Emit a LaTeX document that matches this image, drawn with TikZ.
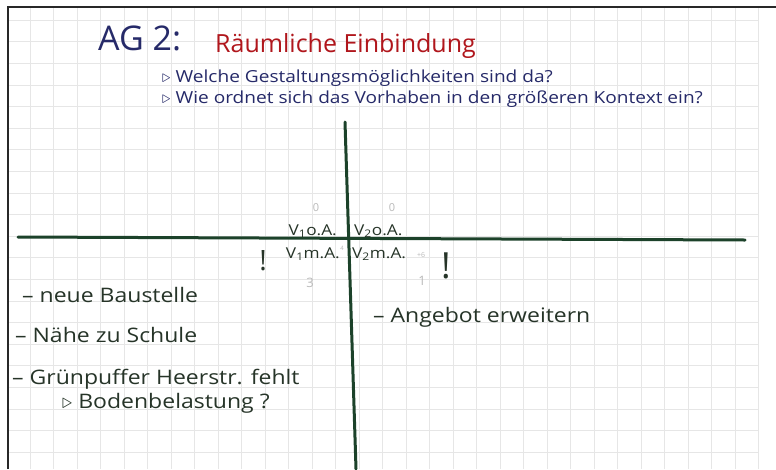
\documentclass[tikz,border=0pt]{standalone}
\usepackage{fontspec}
\setmainfont{Open Sans}
\newfontfamily\handfont{Open Sans}[FakeStretch=1.15]
\usepackage{xcolor}
\definecolor{fnavy}{RGB}{38,42,105}
\definecolor{fred}{RGB}{176,22,28}
\definecolor{fgreen}{RGB}{28,66,42}
\definecolor{fink}{RGB}{38,52,40}
\definecolor{fpencil}{RGB}{185,185,185}
\definecolor{fgrid}{RGB}{230,230,230}
\definecolor{fframe}{RGB}{40,40,40}

\begin{document}
\begin{tikzpicture}[
  x=1pt,y=-1pt,
  gridline/.style={fgrid,line width=0.6pt},
  axis/.style={fgreen,line width=3pt,line cap=round},
  hand/.style={inner sep=0pt,anchor=base west,text=fink,font=\handfont\fontsize{20}{24}\selectfont},
  ask/.style={inner sep=0pt,anchor=base west,text=fnavy,font=\handfont\fontsize{16.6}{20}\selectfont},
  quad/.style={inner sep=0pt,text=fink,font=\handfont\fontsize{15}{18}\selectfont},
  pencil/.style={inner sep=0pt,text=fpencil,font=\fontsize{11}{13}\selectfont},
  bang/.style={inner sep=0pt,text=fink}
]
\useasboundingbox (0,0) rectangle (776,469);
\fill[white] (0,0) rectangle (776,469);
\foreach \gx in {0,...,31} \draw[gridline] (30+23.5*\gx,8) -- (30+23.5*\gx,469);
\foreach \gy in {0,...,20} \draw[gridline] (8,20+21.6*\gy) -- (758,20+21.6*\gy);
\draw[fframe,line width=2pt] (8,469) -- (8,7) -- (776,7);

\coordinate (hl) at (18,237);
\coordinate (hr) at (745,240);
\coordinate (vt) at (345,122);
\coordinate (vb) at (356,469);
\draw[axis] (hl) -- (hr);
\draw[axis] (vt) -- (vb);

\node[inner sep=0pt,anchor=base west,text=fnavy,font=\fontsize{34}{40}\selectfont] (ag) at (98,50) {AG 2:};
\node[inner sep=0pt,anchor=base west,text=fred,font=\fontsize{25}{30}\selectfont] (topic) at (215,52) {Räumliche Einbindung};
\node[ask] (q1) at (162,82) {$\triangleright$ Welche Gestaltungsmöglichkeiten sind da?};
\node[ask] (q2) at (162,103) {$\triangleright$ Wie ordnet sich das Vorhaben in den größeren Kontext ein?};

\node[quad,anchor=base east] (v1o) at (337,235) {V\textsubscript{1}o.A.};
\node[quad,anchor=base west] (v2o) at (354,235) {V\textsubscript{2}o.A.};
\node[quad,anchor=base east] (v1m) at (340,258) {V\textsubscript{1}m.A.};
\node[quad,anchor=base west] (v2m) at (352,258) {V\textsubscript{2}m.A.};

\node[pencil] (p1) at (316,208) {0};
\node[pencil] (p2) at (392,208) {0};
\node[pencil,font=\fontsize{6}{7}\selectfont] (p3) at (342,248) {4};
\node[pencil,font=\fontsize{7}{8}\selectfont] (p4) at (421,255) {+6};
\node[pencil,font=\fontsize{13}{15}\selectfont] (p5) at (310,283) {3};
\node[pencil,font=\fontsize{13}{15}\selectfont] (p6) at (422,281) {1};

\node[bang,font=\fontsize{28}{32}\selectfont] (b1) at (263,261) {!};
\node[bang,font=\fontsize{36}{40}\selectfont] (b2) at (446,266) {!};

\node[hand] (bau) at (22,302) {– neue Baustelle};
\node[hand] (nah) at (15,342) {– Nähe zu Schule};
\node[hand] (gruen) at (12,384) {– Grünpuffer Heerstr. fehlt};
\node[hand] (boden) at (62,408) {$\triangleright$ Bodenbelastung ?};
\node[hand] (ang) at (373,322) {– Angebot erweitern};
\end{tikzpicture}
\end{document}
